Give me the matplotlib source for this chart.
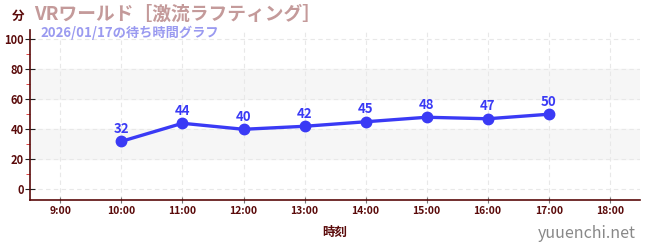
import matplotlib.pyplot as plt

plt.rcParams['font.family'] = ['Noto Sans CJK JP', 'DejaVu Sans']

# Data
hours = [10, 11, 12, 13, 14, 15, 16, 17]
waits = [32, 44, 40, 42, 45, 48, 47, 50]
tick_hours = list(range(9, 19))
tick_labels = ['%d:00' % h for h in tick_hours]
y_ticks = [0, 20, 40, 60, 80, 100]

axis_col = '#5a0a0a'
line_col = '#3a3af5'

fig = plt.figure(figsize=(6.5, 2.5), dpi=100)
ax = fig.add_axes([0.046, 0.2, 0.939, 0.68])

ax.set_xlim(8.5, 18.5)
ax.set_ylim(-7, 106)

# alternating bands
ax.axhspan(20, 40, color='#f6f6f6', zorder=0)
ax.axhspan(60, 80, color='#f6f6f6', zorder=0)

ax.plot(hours, waits, color=line_col, lw=2.4, marker='o', ms=7.5, zorder=3)
for h, w in zip(hours, waits):
    ax.annotate(str(w), (h, w), xytext=(0, 4), textcoords='offset points',
                ha='center', va='bottom', color=line_col, fontsize=9.5, fontweight='bold')

ax.set_xticks(tick_hours)
ax.set_xticklabels(tick_labels)
ax.set_yticks(y_ticks)
ax.set_yticks([10, 30, 50, 70, 90], minor=True)
ax.grid(True, which='major', color='#e8e8e8', linestyle=(0, (4, 3)), lw=0.8)

for s in ['top', 'right']:
    ax.spines[s].set_visible(False)
ax.spines['left'].set_color(axis_col)
ax.spines['bottom'].set_color(axis_col)
ax.spines['left'].set_linewidth(1.2)
ax.spines['bottom'].set_linewidth(1.2)

ax.tick_params(axis='y', which='major', direction='inout', length=7, color='#222222',
               labelsize=8, labelcolor=axis_col, pad=1)
ax.tick_params(axis='y', which='minor', direction='out', length=3, color='#dd2222')
ax.tick_params(axis='x', which='major', direction='inout', length=5, color='#777777',
               labelsize=7.5, labelcolor=axis_col, pad=2)
for lab in ax.get_xticklabels() + ax.get_yticklabels():
    lab.set_fontweight('bold')

ax.set_xlabel('時刻', color=axis_col, fontsize=9, fontweight='bold', labelpad=7)

fig.text(0.018, 0.935, '分', color=axis_col, fontsize=9, fontweight='bold', va='center')
fig.text(0.052, 0.945, 'VRワールド［激流ラフティング］', color='#c49a9a',
         fontsize=13.5, fontweight='bold', va='center')
fig.text(0.062, 0.87, '2026/01/17の待ち時間グラフ', color='#9a9af0',
         fontsize=9.5, fontweight='bold', va='center')
fig.text(0.978, 0.065, 'yuuenchi.net', color='#888888', fontsize=11.5,
         ha='right', va='center')

fig.savefig('out.png', dpi=100)
